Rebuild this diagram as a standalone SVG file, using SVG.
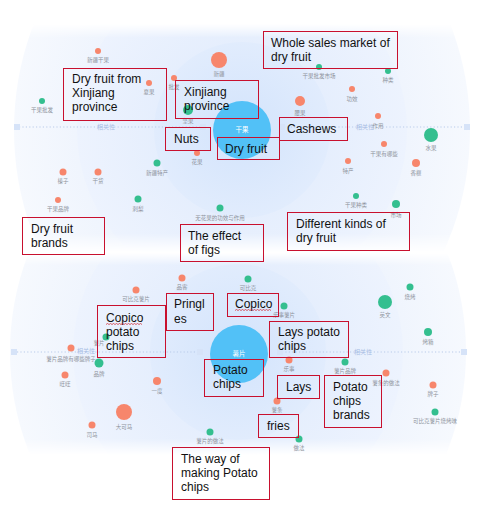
<svg xmlns="http://www.w3.org/2000/svg" width="481" height="510" viewBox="0 0 481 510">
<defs>
<style>
.s{fill:#f7866c}
.g{fill:#34bf8f}
.lbl{font-family:"Noto Sans CJK SC","Noto Sans",sans-serif;font-size:5.5px;fill:#8e939c;text-anchor:middle}
.box{fill:none;stroke:#c8102e;stroke-width:1}
.ann{font-family:"Liberation Sans",Arial,sans-serif;font-size:12px;fill:#111}
.axis{stroke:#b9cbea;stroke-width:1;stroke-dasharray:1.2 2.2}
.sq{fill:#d6e3f8}
.axl{font-family:"Noto Sans CJK SC",sans-serif;font-size:6px;fill:#a8bde4;text-anchor:middle}
.cl{font-family:"Noto Sans CJK SC",sans-serif;font-size:6.5px;fill:#ffffff;text-anchor:middle}
.wavy{fill:none;stroke:#d0202a;stroke-width:0.7}
</style>
<radialGradient id="gOut" cx="0.5" cy="0.5" r="0.5">
<stop offset="0.6" stop-color="#edf3fd"/>
<stop offset="1" stop-color="#f6f9fe"/>
</radialGradient>
<radialGradient id="gMid" cx="0.5" cy="0.5" r="0.5">
<stop offset="0.5" stop-color="#e5eefd"/>
<stop offset="1" stop-color="#edf3fe"/>
</radialGradient>
<radialGradient id="gIn" cx="0.5" cy="0.5" r="0.5">
<stop offset="0.3" stop-color="#d7e6fc"/>
<stop offset="1" stop-color="#e1ecfd"/>
</radialGradient>
<linearGradient id="fadeV" x1="0" y1="0" x2="0" y2="1">
<stop offset="0" stop-color="#fff" stop-opacity="0"/>
<stop offset="0.06" stop-color="#fff" stop-opacity="1"/>
<stop offset="0.92" stop-color="#fff" stop-opacity="1"/>
<stop offset="1" stop-color="#fff" stop-opacity="0"/>
</linearGradient>
<mask id="mTop" maskUnits="userSpaceOnUse" x="0" y="0" width="481" height="510">
<rect x="0" y="24" width="481" height="228" fill="url(#fadeV)"/>
</mask>
<mask id="mBot" maskUnits="userSpaceOnUse" x="0" y="0" width="481" height="510">
<rect x="0" y="253" width="481" height="202" fill="url(#fadeV)"/>
</mask>
</defs>
<rect x="0" y="0" width="481" height="510" fill="#ffffff"/>

<g id="background-top" mask="url(#mTop)">
<ellipse cx="242" cy="130" rx="228" ry="260" fill="url(#gOut)"/>
<circle cx="242" cy="130" r="165" fill="url(#gMid)"/>
<circle cx="242" cy="130" r="88" fill="url(#gIn)"/>
</g>
<g id="background-bottom" mask="url(#mBot)">
<ellipse cx="238" cy="352" rx="228" ry="250" fill="url(#gOut)"/>
<circle cx="238" cy="352" r="165" fill="url(#gMid)"/>
<circle cx="238" cy="352" r="88" fill="url(#gIn)"/>
</g>

<g id="connectors">
<line class="axis" x1="19" y1="127" x2="201" y2="127"/>
<line class="axis" x1="284" y1="127" x2="465" y2="127"/>
<rect class="sq" x="14" y="124" width="6" height="6"/>
<rect class="sq" x="200" y="124" width="6" height="6"/>
<rect class="sq" x="279" y="124" width="6" height="6"/>
<rect class="sq" x="464" y="124" width="6" height="6"/>
<text class="axl" x="106" y="129">相关性</text>
<text class="axl" x="365" y="129">相关性</text>
<line class="axis" x1="17" y1="352" x2="197" y2="352"/>
<line class="axis" x1="282" y1="352" x2="462" y2="352"/>
<rect class="sq" x="11" y="349" width="6" height="6"/>
<rect class="sq" x="197" y="349" width="6" height="6"/>
<rect class="sq" x="277" y="349" width="6" height="6"/>
<rect class="sq" x="461" y="349" width="6" height="6"/>
<text class="axl" x="86" y="352.5">相关性</text>
<text class="axl" x="363" y="354">相关性</text>
</g>

<g id="center-top"><circle cx="242" cy="130" r="29" fill="#52c1f7"/><text class="cl" x="242" y="132">干果</text></g>
<g id="center-bottom"><circle cx="239" cy="354" r="29" fill="#52c1f7"/><text class="cl" x="239" y="356">薯片</text></g>

<g id="n1"><circle class="s" cx="98" cy="51" r="3"/><text class="lbl" x="98" y="62">新疆干果</text></g>
<g id="n2"><circle class="s" cx="149" cy="83" r="3"/><text class="lbl" x="149" y="94">夏果</text></g>
<g id="n3"><circle class="s" cx="174" cy="78" r="3"/><text class="lbl" x="174" y="89">批发</text></g>
<g id="n4"><circle class="s" cx="219" cy="60" r="8"/><text class="lbl" x="219" y="76">新疆</text></g>
<g id="n5"><circle class="g" cx="42" cy="101" r="3"/><text class="lbl" x="42" y="112">干果批发</text></g>
<g id="n6"><circle class="g" cx="188" cy="110" r="5"/><text class="lbl" x="188" y="123">坚果</text></g>
<g id="n7"><circle class="g" cx="319" cy="67" r="3"/><text class="lbl" x="319" y="78">干果批发市场</text></g>
<g id="n8"><circle class="g" cx="388" cy="71" r="3"/><text class="lbl" x="388" y="82">种类</text></g>
<g id="n9"><circle class="s" cx="352" cy="89" r="3"/><text class="lbl" x="352" y="101">功效</text></g>
<g id="n10"><circle class="s" cx="300" cy="101" r="5"/><text class="lbl" x="300" y="115">腰果</text></g>
<g id="n11"><circle class="s" cx="378" cy="116" r="3"/><text class="lbl" x="378" y="128">作用</text></g>
<g id="n12"><circle class="g" cx="431" cy="135" r="7"/><text class="lbl" x="431" y="150">水果</text></g>
<g id="n13"><circle class="s" cx="384" cy="144" r="3"/><text class="lbl" x="384" y="156">干果有哪些</text></g>
<g id="n14"><circle class="s" cx="348" cy="161" r="3"/><text class="lbl" x="348" y="173">特产</text></g>
<g id="n15"><circle class="s" cx="416" cy="163" r="4"/><text class="lbl" x="416" y="175">香榧</text></g>
<g id="n16"><circle class="g" cx="356" cy="196" r="3"/><text class="lbl" x="356" y="207">干果种类</text></g>
<g id="n17"><circle class="g" cx="396" cy="204" r="4"/><text class="lbl" x="396" y="217">市场</text></g>
<g id="n18"><circle class="s" cx="63" cy="172" r="3.5"/><text class="lbl" x="63" y="183">榛子</text></g>
<g id="n19"><circle class="s" cx="98" cy="172" r="3.5"/><text class="lbl" x="98" y="183">干货</text></g>
<g id="n20"><circle class="g" cx="157" cy="163" r="3.5"/><text class="lbl" x="157" y="175">新疆特产</text></g>
<g id="n21"><circle class="s" cx="197" cy="153" r="3"/><text class="lbl" x="197" y="164">花果</text></g>
<g id="n22"><circle class="s" cx="58" cy="200" r="3"/><text class="lbl" x="58" y="211">干果品牌</text></g>
<g id="n23"><circle class="g" cx="138" cy="199" r="3.5"/><text class="lbl" x="138" y="211">刺梨</text></g>
<g id="n24"><circle class="g" cx="220" cy="208" r="3.5"/><text class="lbl" x="220" y="220">无花果的功效与作用</text></g>

<g id="m1"><circle class="s" cx="182" cy="278" r="3.5"/><text class="lbl" x="182" y="289">品客</text></g>
<g id="m2"><circle class="s" cx="136" cy="290" r="3.5"/><text class="lbl" x="136" y="301">可比克薯片</text></g>
<g id="m3"><circle class="g" cx="106" cy="337" r="3.5"/><text class="lbl" x="99" y="345">薯片</text></g>
<g id="m4"><circle class="s" cx="71" cy="348" r="3.5"/><text class="lbl" x="71" y="361">薯片品牌有哪些牌子</text></g>
<g id="m5"><circle class="g" cx="99" cy="363" r="4.5"/><text class="lbl" x="99" y="376">品牌</text></g>
<g id="m6"><circle class="s" cx="65" cy="375" r="3.5"/><text class="lbl" x="65" y="386">旺旺</text></g>
<g id="m7"><circle class="s" cx="157" cy="381" r="4"/><text class="lbl" x="157" y="393">一度</text></g>
<g id="m8"><circle class="s" cx="124" cy="412" r="8"/><text class="lbl" x="124" y="429">大可马</text></g>
<g id="m9"><circle class="s" cx="92" cy="425" r="3.5"/><text class="lbl" x="92" y="437">司马</text></g>
<g id="m10"><circle class="g" cx="210" cy="432" r="3.5"/><text class="lbl" x="210" y="443">薯片的做法</text></g>
<g id="m11"><circle class="g" cx="248" cy="279" r="3.5"/><text class="lbl" x="248" y="290">可比克</text></g>
<g id="m12"><circle class="g" cx="284" cy="306" r="3.5"/><text class="lbl" x="284" y="317">乐事薯片</text></g>
<g id="m13"><circle class="g" cx="385" cy="302" r="7"/><text class="lbl" x="385" y="317">英文</text></g>
<g id="m14"><circle class="g" cx="410" cy="287" r="3.5"/><text class="lbl" x="410" y="299">烧烤</text></g>
<g id="m15"><circle class="g" cx="428" cy="332" r="4"/><text class="lbl" x="428" y="344">烤箱</text></g>
<g id="m16"><circle class="s" cx="289" cy="360" r="3.5"/><text class="lbl" x="289" y="371">乐事</text></g>
<g id="m17"><circle class="g" cx="345" cy="362" r="3.5"/><text class="lbl" x="345" y="373">薯片品牌</text></g>
<g id="m18"><circle class="s" cx="386" cy="373" r="3.5"/><text class="lbl" x="386" y="385">薯条的做法</text></g>
<g id="m19"><circle class="s" cx="433" cy="385" r="3.5"/><text class="lbl" x="433" y="396">牌子</text></g>
<g id="m20"><circle class="g" cx="435" cy="412" r="3.5"/><text class="lbl" x="435" y="423">可比克薯片烧烤味</text></g>
<g id="m21"><circle class="s" cx="277" cy="401" r="3.5"/><text class="lbl" x="277" y="412">薯条</text></g>
<g id="m22"><circle class="g" cx="299" cy="439" r="3.5"/><text class="lbl" x="299" y="450">做法</text></g>

<g id="a1"><rect class="box" x="263.5" y="31.5" width="134" height="37"/><text class="ann" x="271" y="47">Whole sales market of</text><text class="ann" x="271" y="61">dry fruit</text></g>
<g id="a2"><rect class="box" x="63.5" y="68.5" width="103" height="52"/><text class="ann" x="72" y="83">Dry fruit from</text><text class="ann" x="72" y="97">Xinjiang</text><text class="ann" x="72" y="111">province</text></g>
<g id="a3"><rect class="box" x="175.5" y="80.5" width="83" height="38"/><text class="ann" x="184" y="96">Xinjiang</text><text class="ann" x="184" y="110">province</text></g>
<g id="a4"><rect class="box" x="165.5" y="127.5" width="45" height="23"/><text class="ann" x="174" y="143">Nuts</text></g>
<g id="a5"><rect class="box" x="217.5" y="137.5" width="62" height="22"/><text class="ann" x="225" y="153">Dry fruit</text></g>
<g id="a6"><rect class="box" x="279.5" y="117.5" width="68" height="23"/><text class="ann" x="287" y="133">Cashews</text></g>
<g id="a7"><rect class="box" x="22.5" y="217.5" width="82" height="37"/><text class="ann" x="31" y="233">Dry fruit</text><text class="ann" x="31" y="247">brands</text></g>
<g id="a8"><rect class="box" x="180.5" y="224.5" width="83" height="37"/><text class="ann" x="188" y="240">The effect</text><text class="ann" x="188" y="254">of figs</text></g>
<g id="a9"><rect class="box" x="287.5" y="212.5" width="122" height="38"/><text class="ann" x="296" y="228">Different kinds of</text><text class="ann" x="296" y="242">dry fruit</text></g>

<g id="a10"><rect class="box" x="166.5" y="293.5" width="47" height="37"/><text class="ann" x="174" y="308">Pringl</text><text class="ann" x="174" y="323">es</text></g>
<g id="a11"><rect class="box" x="97.5" y="305.5" width="68" height="52"/><text class="ann" x="106" y="322">Copico</text><text class="ann" x="106" y="336">potato</text><text class="ann" x="106" y="350">chips</text><path class="wavy" d="M106 324.5 l1.5 -1 l1.5 1 l1.5 -1 l1.5 1 l1.5 -1 l1.5 1 l1.5 -1 l1.5 1 l1.5 -1 l1.5 1 l1.5 -1 l1.5 1 l1.5 -1 l1.5 1 l1.5 -1 l1.5 1 l1.5 -1 l1.5 1 l1.5 -1 l1.5 1 l1.5 -1 l1.5 1 l1.5 -1 l1.5 1"/></g>
<g id="a12"><rect class="box" x="227.5" y="293.5" width="51" height="23"/><text class="ann" x="235" y="308">Copico</text><path class="wavy" d="M235 310.5 l1.5 -1 l1.5 1 l1.5 -1 l1.5 1 l1.5 -1 l1.5 1 l1.5 -1 l1.5 1 l1.5 -1 l1.5 1 l1.5 -1 l1.5 1 l1.5 -1 l1.5 1 l1.5 -1 l1.5 1 l1.5 -1 l1.5 1 l1.5 -1 l1.5 1 l1.5 -1 l1.5 1 l1.5 -1 l1.5 1"/></g>
<g id="a13"><rect class="box" x="269.5" y="321.5" width="79" height="36"/><text class="ann" x="278" y="336">Lays potato</text><text class="ann" x="278" y="350">chips</text></g>
<g id="a14"><rect class="box" x="204.5" y="359.5" width="59" height="37"/><text class="ann" x="213" y="374">Potato</text><text class="ann" x="213" y="388">chips</text></g>
<g id="a15"><rect class="box" x="277.5" y="375.5" width="42" height="23"/><text class="ann" x="286" y="391">Lays</text></g>
<g id="a16"><rect class="box" x="324.5" y="375.5" width="57" height="52"/><text class="ann" x="333" y="391">Potato</text><text class="ann" x="333" y="405">chips</text><text class="ann" x="333" y="419">brands</text></g>
<g id="a17"><rect class="box" x="258.5" y="414.5" width="40" height="23"/><text class="ann" x="267" y="430">fries</text></g>
<g id="a18"><rect class="box" x="172.5" y="447.5" width="97" height="52"/><text class="ann" x="181" y="463">The way of</text><text class="ann" x="181" y="477">making Potato</text><text class="ann" x="181" y="491">chips</text></g>
</svg>
